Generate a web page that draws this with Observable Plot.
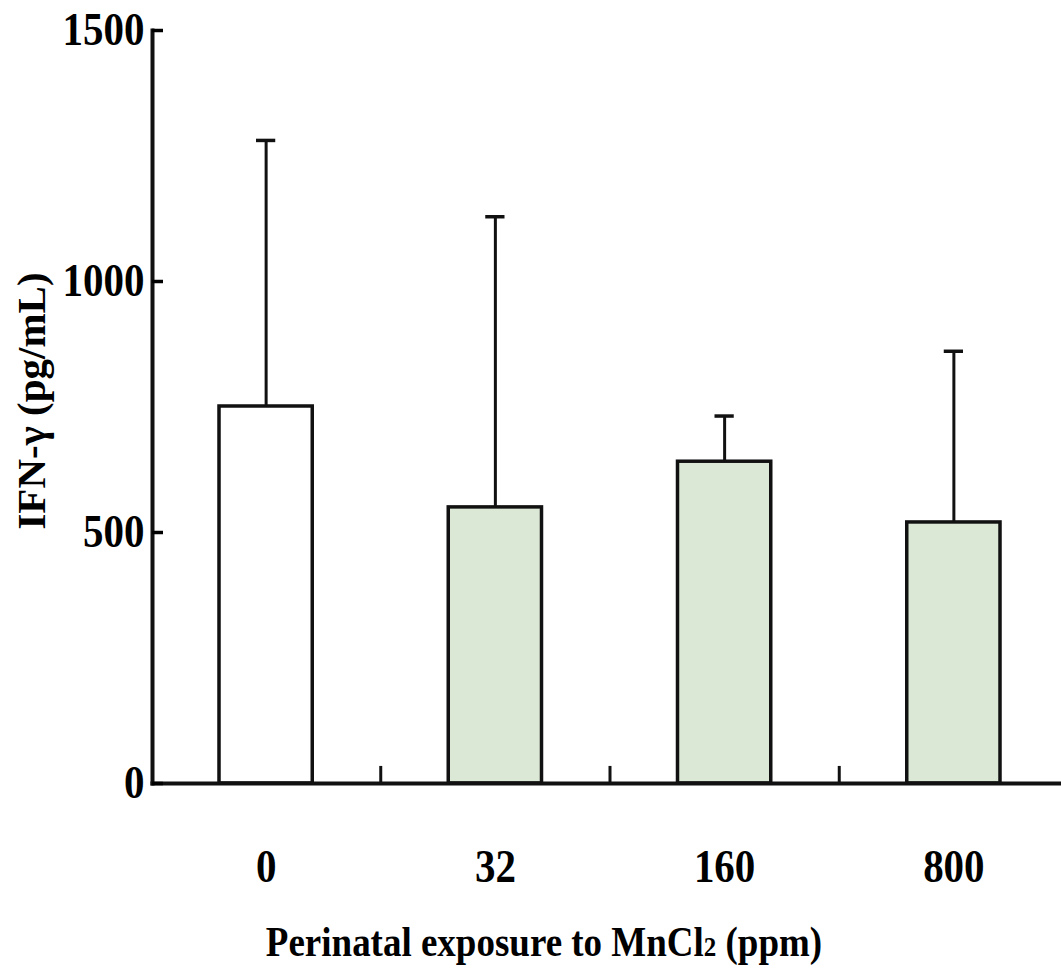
<!DOCTYPE html>
<html><head><meta charset="utf-8">
<script src="https://cdn.jsdelivr.net/npm/d3@7"></script>
<script src="https://cdn.jsdelivr.net/npm/@observablehq/plot@0.6"></script>
<style>html,body{margin:0;padding:0;background:#fff;} svg{display:block}</style>
</head><body><div id="chart"></div>
<script>
const doses = ["0", "32", "160", "800"];
const means = [751, 550, 641, 520];
const sds = [530, 579, 91, 341];
const fills = ["#ffffff", "#dbe8d5", "#dbe8d5", "#dbe8d5"];
const yTicks = [0, 500, 1000, 1500];
const xTitle = "Perinatal exposure to MnCl2 (ppm)";
const yTitle = "IFN-γ (pg/mL)";

const data = doses.map((d, i) => ({dose: d, mean: means[i], upper: means[i] + sds[i], fill: fills[i]}));
const dividers = doses.slice(0, -1);
const xRange = [151, 1068];
const step = (xRange[1] - xRange[0]) / doses.length;

const chart = Plot.plot({
  width: 1061, height: 971,
  marginLeft: 152, marginRight: 0, marginTop: 30, marginBottom: 188,
  style: {fontFamily: "'Liberation Serif', 'Times New Roman', serif", fontWeight: "bold", fontSize: "41px", background: "#fff", color: "#000", overflow: "visible"},
  x: {domain: doses, range: xRange, padding: 0, round: false},
  y: {domain: [0, 1500]},
  marks: [
    Plot.barY(data, {x: "dose", y: "mean", fill: d => d.fill, stroke: "#111", strokeWidth: 3.5, insetLeft: 68, insetRight: 68}),
    Plot.ruleX(data, {x: "dose", y1: "mean", y2: "upper", stroke: "#111", strokeWidth: 3}),
    Plot.tickY(data, {x: "dose", y: "upper", stroke: "#111", strokeWidth: 3.5, insetLeft: 105, insetRight: 105}),
    Plot.ruleX(dividers, {x: d => d, dx: step / 2, y1: 0, y2: 34, stroke: "#111", strokeWidth: 3}),
    Plot.frame({anchor: "left", stroke: "#111", strokeWidth: 4}),
    Plot.frame({anchor: "bottom", stroke: "#111", strokeWidth: 4}),
    Plot.axisY({ticks: yTicks, tickSize: -11, tickPadding: 19, tickFormat: "d", strokeWidth: 3.5, label: null}),
    Plot.axisX({tickSize: 0, tickPadding: 68, label: null}),
    Plot.text([yTitle], {frameAnchor: "left", textAnchor: "middle", rotate: -90, dx: -121, dy: -6, fontSize: 41}),
    Plot.text([xTitle], {frameAnchor: "bottom", dx: -63, dy: 171, fontSize: 37, lineAnchor: "bottom"})
  ]
});
document.getElementById("chart").appendChild(chart);
const ns = "http://www.w3.org/2000/svg";
// render the "2" of MnCl2 smaller, as in the source
chart.querySelectorAll("text").forEach(t => {
  if (t.textContent === xTitle) {
    const [a, b] = xTitle.split("MnCl2");
    t.textContent = "";
    const s1 = document.createElementNS(ns, "tspan"); s1.textContent = a + "MnCl";
    const s2 = document.createElementNS(ns, "tspan"); s2.textContent = "2"; s2.setAttribute("font-size", "25");
    const s3 = document.createElementNS(ns, "tspan"); s3.textContent = b;
    t.append(s1, s2, s3);
  }
});
// the scanned source's lettering is slightly taller than wide: stretch horizontal texts vertically
chart.querySelectorAll("text").forEach(t => {
  if (t.textContent === yTitle) return;
  const r = t.getBoundingClientRect();
  const inv = t.parentNode.getScreenCTM().inverse();
  const p = new DOMPoint(r.x + r.width / 2, r.y + r.height / 2).matrixTransform(inv);
  const g = document.createElementNS(ns, "g");
  g.setAttribute("transform", `translate(${p.x},${p.y}) scale(1,1.12) translate(${-p.x},${-p.y})`);
  t.parentNode.insertBefore(g, t);
  g.appendChild(t);
});
</script>
</body></html>
